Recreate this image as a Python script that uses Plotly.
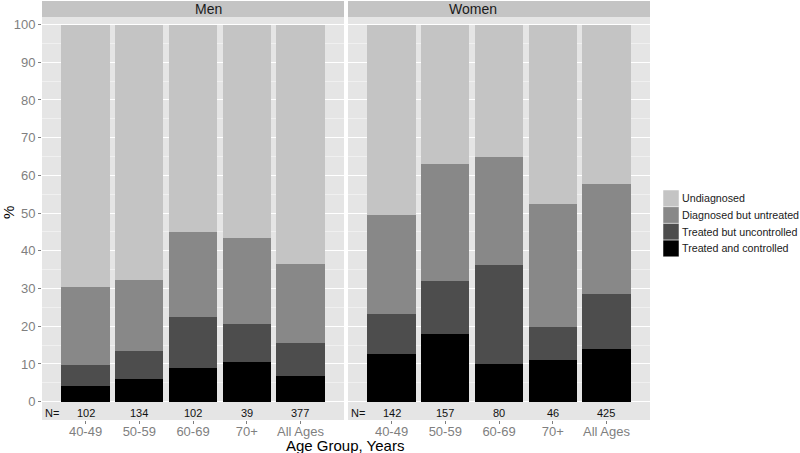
import plotly.graph_objects as go

ages = ['40-49', '50-59', '60-69', '70+', 'All Ages']
groups = ['Men', 'Women']

# percentages per age group, bottom to top of each stack
men_controlled = [4.2, 5.9, 8.9, 10.4, 6.8]
men_uncontrolled = [5.6, 7.6, 13.6, 10.2, 8.8]
men_untreated = [20.6, 18.7, 22.5, 22.9, 20.9]
men_undiagnosed = [69.6, 67.8, 55.0, 56.5, 63.5]

women_controlled = [12.7, 18.0, 10.0, 11.0, 14.0]
women_uncontrolled = [10.6, 13.9, 26.3, 8.7, 14.5]
women_untreated = [26.1, 31.2, 28.7, 32.6, 29.3]
women_undiagnosed = [50.6, 36.9, 35.0, 47.7, 42.2]

men_n = [102, 134, 102, 39, 377]
women_n = [142, 157, 80, 46, 425]

series_names = ['Treated and controlled', 'Treated but uncontrolled',
                'Diagnosed but untreated', 'Undiagnosed']
colors = ['#000000', '#4d4d4d', '#888888', '#c4c4c4']

FONT = 'Liberation Sans'
W, H = 800, 453
L, R, T, B = 42, 150, 17, 33
pw = W - L - R
ph = H - T - B

fig = go.Figure()

panels = [
    ('x', [men_controlled, men_uncontrolled, men_untreated, men_undiagnosed], men_n),
    ('x2', [women_controlled, women_uncontrolled, women_untreated, women_undiagnosed], women_n),
]
for xa, stacks, ns in panels:
    for name, vals, col in zip(series_names, stacks, colors):
        fig.add_trace(go.Bar(x=ages, y=vals, name=name, marker_color=col,
                             marker_line_width=0, width=0.9, xaxis=xa, yaxis='y',
                             showlegend=False))
    for a, n in zip(ages, ns):
        fig.add_annotation(x=a, y=-3.0, xref=xa, yref='y', text=str(n), showarrow=False,
                           font=dict(family=FONT, size=11, color='#111111'))
    fig.add_annotation(x=-0.62, y=-3.0, xref=xa, yref='y', text='N=', showarrow=False,
                       font=dict(family=FONT, size=11, color='#111111'))

def px_y(p):
    return (H - B - p) / ph

def px_x(p):
    return (p - L) / pw

# facet strips
split = 302 / pw
gap = 306 / pw
for (x0, x1), label in zip([(0, split), (gap, 1)], groups):
    fig.add_shape(type='rect', xref='paper', yref='paper', x0=x0, x1=x1,
                  y0=1, y1=px_y(1), fillcolor='#c4c4c4', line_width=0, layer='below')
    fig.add_annotation(x=(x0 + x1) / 2, y=px_y(9), xref='paper', yref='paper',
                       text=label, showarrow=False, yanchor='middle',
                       font=dict(family=FONT, size=14, color='#1a1a1a'))

# legend
for i, (name, col) in enumerate(zip(series_names[::-1], colors[::-1])):
    top = 190 + i * 16.7
    fig.add_shape(type='rect', xref='paper', yref='paper', x0=px_x(663), x1=px_x(679),
                  y0=px_y(top), y1=px_y(top + 16.7), fillcolor=col,
                  line=dict(color='white', width=0.5))
    fig.add_annotation(x=px_x(680), y=px_y(top + 8.3), xref='paper', yref='paper',
                       text=name, showarrow=False, xanchor='left', yanchor='middle',
                       font=dict(family=FONT, size=10.7, color='#1a1a1a'))

fig.add_annotation(x=px_x(345), y=px_y(445), xref='paper', yref='paper',
                   text='Age Group, Years', showarrow=False, yanchor='middle',
                   font=dict(family=FONT, size=15, color='#000000'))
fig.add_annotation(x=px_x(8), y=px_y(213), xref='paper', yref='paper',
                   text='%', showarrow=False, textangle=-90, xanchor='center',
                   font=dict(family=FONT, size=15, color='#000000'))

xaxis_common = dict(type='category', range=[-0.81, 4.81], showgrid=False, zeroline=False,
                    ticks='outside', ticklen=3, tickcolor='#7f7f7f', automargin=False,
                    ticklabelstandoff=-4,
                    tickfont=dict(family=FONT, size=13, color='#7f7f7f'), fixedrange=True)

fig.update_layout(
    width=W, height=H,
    margin=dict(l=L, r=R, t=T, b=B, autoexpand=False),
    paper_bgcolor='white',
    plot_bgcolor='white',
    barmode='stack',
    bargap=0.1,
    showlegend=False,
    font=dict(family=FONT),
    xaxis=dict(domain=[0, split], **xaxis_common),
    xaxis2=dict(domain=[gap, 1], anchor='y', **xaxis_common),
    yaxis=dict(range=[-4.86, 102.0], tickvals=list(range(0, 101, 10)), automargin=False,
               showgrid=True, gridcolor='white', gridwidth=1.2, zeroline=False,
               minor=dict(tickvals=list(range(5, 101, 10)), showgrid=True,
                          gridcolor='#f0f0f0', gridwidth=0.6),
               ticks='outside', ticklen=3, tickcolor='#7f7f7f', fixedrange=True,
               tickfont=dict(family=FONT, size=13, color='#7f7f7f')),
)

# panel backgrounds
for x0, x1 in [(0, split), (gap, 1)]:
    fig.add_shape(type='rect', xref='paper', yref='paper', x0=x0, x1=x1, y0=0, y1=1,
                  fillcolor='#e5e5e5', line_width=0, layer='below')

fig.write_html('out.html', config={'displayModeBar': False},
               post_script="document.body.style.margin='0';")
